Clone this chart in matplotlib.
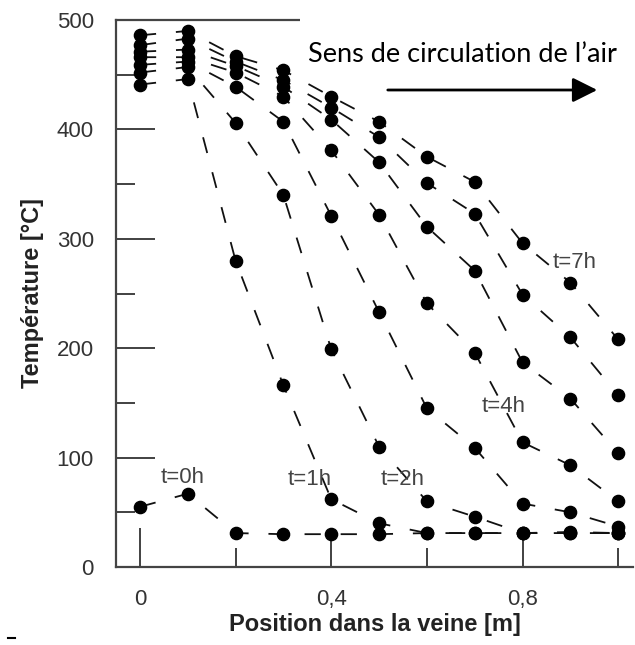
import matplotlib
matplotlib.use('Agg')
import matplotlib.pyplot as plt
from matplotlib.ticker import FixedLocator, MultipleLocator, FuncFormatter
from matplotlib.lines import Line2D
from matplotlib.patches import Rectangle, FancyArrowPatch

# position along the duct [m]
position = [0, 0.1, 0.2, 0.3, 0.4, 0.5, 0.6, 0.7, 0.8, 0.9, 1.0]

# temperature profiles [degC], one per hour
t0 = [55, 67, 31, 30, 30, 30, 31, 31, 31, 31, 31]
t1 = [441, 446, 280, 166, 62, 40, 31, 31, 31, 31, 31]
t2 = [452, 457, 406, 340, 199, 110, 60, 46, 31, 32, 31]
t3 = [459, 462, 439, 407, 321, 233, 145, 109, 58, 50, 37]
t4 = [466, 466, 452, 430, 381, 322, 241, 196, 114, 93, 60]
t5 = [471, 473, 458, 439, 409, 370, 311, 271, 187, 154, 104]
t6 = [477, 483, 462, 445, 420, 393, 351, 323, 249, 210, 157]
t7 = [486, 490, 467, 454, 430, 407, 375, 352, 296, 260, 208]
profiles = [t0, t1, t2, t3, t4, t5, t6, t7]

# curve labels and where they sit (data coords)
labels = ['t=0h', 't=1h', 't=2h', 't=4h', 't=7h']
label_x = [0.09, 0.356, 0.55, 0.76, 0.908]
label_y = [82, 80, 80, 147, 278]

x_major = [0, 0.4, 0.8]
x_minor = [0.2, 0.6, 1.0]

fig = plt.figure(figsize=(6.35, 6.45), dpi=100)
ax = fig.add_axes([116/635, 1-567/645, 517/635, 547/645])

for prof in profiles:
    ax.plot(position, prof, color='#111', lw=1.3, ls=(0, (9, 11)),
            marker='o', ms=8.8, mfc='black', mec='black', zorder=3, clip_on=False)

for s, xl, yl in zip(labels, label_x, label_y):
    ax.text(xl, yl, s, fontsize=16, color='#444', ha='center', va='center',
            family='Liberation Sans', zorder=4)

ax.set_xlim(-0.05, 1.031)
ax.set_ylim(0, 500)
ax.xaxis.set_major_locator(FixedLocator(x_major))
ax.xaxis.set_minor_locator(FixedLocator(x_minor))
ax.xaxis.set_major_formatter(FuncFormatter(lambda v, p: ('%g' % v).replace('.', ',')))
ax.yaxis.set_major_locator(MultipleLocator(100))
ax.yaxis.set_minor_locator(MultipleLocator(50))

ax.tick_params(which='both', direction='in', color='#333', width=1.3,
               labelsize=16, labelcolor='#333', pad=16)
ax.tick_params(which='major', length=28)
ax.tick_params(which='minor', length=14)
for lab in ax.get_xticklabels() + ax.get_yticklabels():
    lab.set_family('Liberation Sans')

for sp in ['left', 'bottom', 'top']:
    ax.spines[sp].set_color('#444')
    ax.spines[sp].set_linewidth(1.6)
ax.spines['right'].set_visible(False)

ax.set_xlabel('Position dans la veine [m]', fontsize=17, fontweight='bold',
              family='Liberation Sans', color='#222')
ax.set_ylabel('Température [°C]', fontsize=17, fontweight='bold',
              family='Liberation Sans', color='#222')
ax.xaxis.set_label_coords(0.5, -0.084)
ax.yaxis.set_label_coords(-0.14, 0.5)

# white text box of the flow note hides the top frame on the right
fig.add_artist(Rectangle((300/635, 1-78/645), 335/635, 70/645,
                         transform=fig.transFigure, facecolor='white',
                         edgecolor='none', zorder=2))
fig.text(462/635, 1-55/645, "Sens de circulation de l\u2019air", fontsize=19.5,
         family='Lato', ha='center', va='center', color='black', zorder=3)
fig.add_artist(FancyArrowPatch(
    (385/635, 1-90/645), (600/635, 1-90/645), transform=fig.transFigure,
    arrowstyle='-|>,head_length=1.0,head_width=0.5', mutation_scale=15,
    color='black', lw=2, zorder=3))

# small stray dash bottom-left
fig.add_artist(Line2D([8/635, 15/635], [1-638/645, 1-638/645],
                      transform=fig.transFigure, color='black', lw=1.5))

fig.savefig('out.png', dpi=100)
